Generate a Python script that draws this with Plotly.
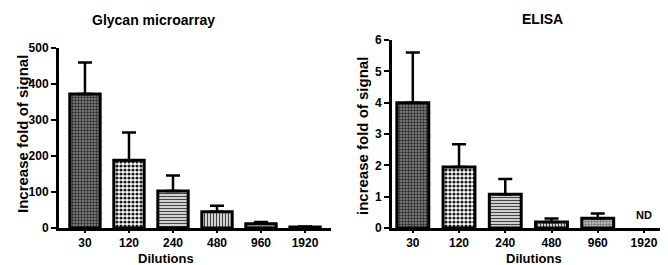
import plotly.graph_objects as go

dilutions = ["30", "120", "240", "480", "960", "1920"]
glycan_mean = [372, 188, 103, 45, 12, 3]
glycan_err = [88, 77, 43, 17, 5, 1]
elisa_mean = [4.0, 1.95, 1.08, 0.19, 0.31, None]
elisa_err = [1.6, 0.72, 0.48, 0.11, 0.15, None]

# page body has an 8px default margin: work in reference pixels, shifted
OFF = 8
W, H = 668 - OFF, 265 - OFF
def px(x):
    return (x - OFF) / W
def py(y):
    return 1 - (y - OFF) / H

shapes = [".", ".", "-", "|", ".", ""]
bgcols = ["#8a8a8a", "#ffffff", "#ffffff", "#ffffff", "#c8c8c8", "#ffffff"]
fgcols = ["#2a2a2a", "#1a1a1a", "#444444", "#444444", "#777777", "#444444"]
sizes = [3, 4, 3, 3, 3, 3]

fig = go.Figure()
def add_bars(means, errs, xa, ya):
    for i, cat in enumerate(dilutions):
        if means[i] is None:
            continue
        fig.add_trace(go.Bar(
            x=[cat], y=[means[i]], xaxis=xa, yaxis=ya, width=0.69,
            marker=dict(color=bgcols[i], line=dict(color="black", width=3),
                        pattern=dict(shape=shapes[i], bgcolor=bgcols[i], fgcolor=fgcols[i],
                                     size=sizes[i], solidity=0.5, fillmode="replace")),
            error_y=dict(type="data", symmetric=False, array=[errs[i]],
                         arrayminus=[0], color="black", thickness=2.5, width=7),
            showlegend=False,
        ))

add_bars(glycan_mean, glycan_err, "x", "y")
add_bars(elisa_mean, elisa_err, "x2", "y2")

fam = "Liberation Sans, Arial"
axcommon = dict(showline=True, linecolor="black", linewidth=3, ticks="outside",
                tickwidth=2, tickcolor="black", showgrid=False,
                zeroline=False, fixedrange=True, automargin=False)
xtf = dict(family=fam, size=12, color="black", weight="bold")
ytf = dict(family=fam, size=12, color="black", weight="bold")

fig.update_layout(
    width=W, height=H, margin=dict(l=0, r=0, t=0, b=0, pad=0), autosize=False,
    paper_bgcolor="white", plot_bgcolor="white", barmode="overlay",
    xaxis=dict(domain=[px(59), px(331)], anchor="y", type="category",
               categoryorder="array", categoryarray=dilutions, ticklen=2,
               range=[-0.59, 5.59], tickfont=xtf, **axcommon),
    yaxis=dict(domain=[py(228), py(48)], anchor="x", range=[0, 500], ticklen=5,
               tickvals=[0, 100, 200, 300, 400, 500], ticklabelstandoff=0,
               tickfont=ytf, **axcommon),
    xaxis2=dict(domain=[px(392), 1.0], anchor="y2", type="category",
                categoryorder="array", categoryarray=dilutions, ticklen=2,
                range=[-0.45, 5.52], tickfont=xtf, **axcommon),
    yaxis2=dict(domain=[py(228), py(40)], anchor="x2", range=[0, 6], ticklen=5,
                tickvals=[0, 1, 2, 3, 4, 5, 6], ticklabelstandoff=0,
                tickfont=ytf, **axcommon),
)

tt = dict(family=fam, size=14, color="black", weight="bold")
at = dict(family=fam, size=15, color="black", weight="bold")
dt = dict(family=fam, size=13, color="black", weight="bold")
ann = [
    dict(text="Glycan microarray", x=px(153), y=py(20), font=tt),
    dict(text="ELISA", x=px(542), y=py(19), font=tt),
    dict(text="Increase fold of signal", x=px(22), y=py(134), font=at, textangle=-90),
    dict(text="increase fold of signal", x=px(362), y=py(136), font=at, textangle=-90),
    dict(text="Dilutions", x=px(166), y=py(258), font=dt),
    dict(text="Dilutions", x=px(534), y=py(258), font=dt),
]
for a in ann:
    fig.add_annotation(xref="paper", yref="paper", showarrow=False,
                       xanchor="center", yanchor="middle", **a)
fig.add_annotation(text="ND", x=5, y=0, xref="x2", yref="y2", showarrow=False,
                   yanchor="bottom", yshift=5, font=dict(family=fam,
                   size=11, color="black", weight="bold"))

fig.write_html("out.html")
